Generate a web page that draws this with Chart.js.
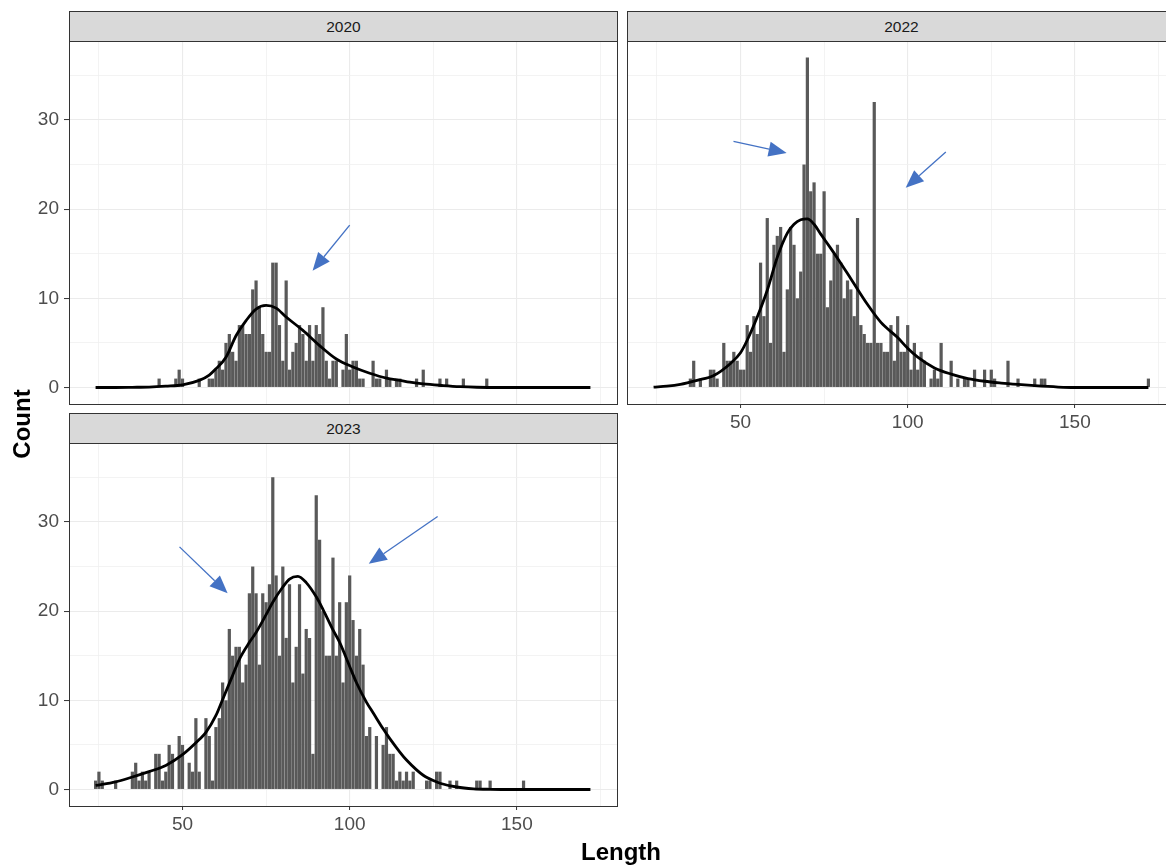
<!DOCTYPE html>
<html><head><meta charset="utf-8">
<script src="https://cdn.jsdelivr.net/npm/chart.js@4/dist/chart.umd.min.js"></script>
<style>
html,body{margin:0;padding:0;background:#fff;}
body{width:1166px;height:866px;overflow:hidden;position:relative;font-family:"Liberation Sans",Arial,sans-serif;}
canvas{position:absolute;}
.strip{position:absolute;box-sizing:border-box;background:#d9d9d9;border:1px solid #333;text-align:center;font-size:15.5px;color:#1a1a1a;height:31px;line-height:29px;}
.title{position:absolute;font-weight:bold;font-size:24px;color:#000;text-align:center;width:200px;height:30px;line-height:30px;}
</style></head>
<body>
<div class="strip" style="left:69px;top:11px;width:549px;">2020</div>
<div class="strip" style="left:627px;top:11px;width:549px;">2022</div>
<div class="strip" style="left:69px;top:413px;width:549px;">2023</div>
<canvas id="c2020" width="619" height="367" style="left:0px;top:39px;"></canvas>
<canvas id="c2022" width="552" height="405" style="left:625px;top:39px;"></canvas>
<canvas id="c2023" width="619" height="405" style="left:0px;top:441px;"></canvas>
<div class="title" style="left:-78px;top:409px;transform:rotate(-90deg);">Count</div>
<div class="title" style="left:521px;top:837px;">Length</div>
<script>
// ---- data ----
const binStart = 24; // first length bin (bins of width 1)
const counts2020 = [
  0,0,0,0,0,0,0,0,0,0,
  0,0,0,0,0,0,0,0,0,1,
  0,0,0,0,1,2,1,0,0,0,
  0,1,0,0,1,1,2,3,2,5,
  6,4,3,7,7,6,6,11,12,9,
  6,4,4,14,14,7,3,12,2,4,
  5,7,6,3,7,3,7,6,9,3,
  1,3,3,0,2,6,2,3,3,1,
  1,0,0,3,1,1,0,2,1,0,
  1,1,0,0,0,0,1,0,2,0,
  0,0,0,1,0,1,0,0,0,0,
  1,0,0,0,0,0,0,1,0,0,
  0,0,0,0,0,0,0,0,0,0,
  0,0,0,0,0,0,0,0,0,0,
  0,0,0,0,0,0,0,0,0];
const counts2022 = [
  0,0,0,0,0,0,0,0,0,0,
  0,1,3,0,1,0,0,2,2,1,
  0,5,3,3,4,3,2,2,7,4,
  8,6,14,8,19,5,16,17,18,4,
  11,18,16,10,13,25,37,22,23,15,
  15,22,9,12,15,16,14,10,12,11,
  8,19,7,6,5,5,32,5,5,4,
  4,7,3,8,4,4,7,2,5,2,
  4,3,0,1,2,1,5,0,0,3,
  0,1,0,1,1,0,2,0,0,2,
  0,2,1,0,0,0,3,0,0,1,
  0,0,0,0,1,0,1,1,0,0,
  0,0,0,0,0,0,0,0,0,0,
  0,0,0,0,0,0,0,0,0,0,
  0,0,0,0,0,0,0,0,1];
const counts2023 = [
  1,2,1,0,0,0,1,0,0,0,
  0,2,3,1,2,1,2,0,4,4,
  1,2,5,4,0,6,5,0,3,2,
  8,2,0,8,6,1,7,8,12,10,
  18,15,16,16,12,14,22,25,22,14,
  22,21,23,35,24,15,25,17,23,12,
  16,23,13,18,17,4,33,28,20,15,
  15,26,15,21,12,21,24,19,15,18,
  14,6,7,0,6,0,5,7,4,4,
  1,2,1,2,1,2,0,0,0,1,
  1,0,2,2,0,0,1,0,1,0,
  0,0,0,0,1,1,0,0,1,0,
  0,0,0,0,0,0,0,0,1,0,
  0,0,0,0,0,0,0,0,0,0,
  0,0,0,0,0,0,0,0,0];

// density curves (scaled to counts)
const densL2020 = [24,30,35,40,45,50,55,58,60,63,66,69,72,75,78,81,86,91,96,101,106,111,115,118,122,128,133,138,145,172];
const dens2020  = [0,0,0.02,0.05,0.15,0.3,0.8,1.4,2.1,3.4,5.8,7.5,8.8,9.2,8.9,7.9,6.4,4.7,3.2,2.3,1.6,1.05,0.8,0.6,0.4,0.22,0.1,0.03,0,0];
const densL2022 = [24,28,32,37,42,47,50,52,55,58,61,64,66,68,70,72,74,77,79,83,88,92,97,100,103,108,113,118,123,128,133,138,145,150,172];
const dens2022  = [0.05,0.15,0.35,0.8,1.35,2.7,3.9,5.3,7.9,10.9,14.6,17.3,18.3,18.8,18.9,18.3,17.2,15.6,14.5,12.2,9.3,7.3,5.6,4.4,3.4,2.2,1.5,1.0,0.7,0.5,0.34,0.2,0.05,0,0];
const densL2023 = [24,30,35,40,45,50,55,57,60,62,65,67,70,72,75,77,80,82,84.5,87,90,92,95,97,100,102,105,107,110,112,115,117,120,122,125,127,132,137,142,150,172];
const dens2023  = [0.45,0.85,1.4,2.0,2.7,3.9,5.6,6.4,8.3,10.1,12.8,14.6,16.5,17.6,19.6,21.0,22.7,23.6,23.9,23.2,21.6,20.2,17.9,16.5,13.8,12.0,9.8,8.6,6.8,5.7,4.2,3.3,2.2,1.6,1.0,0.7,0.28,0.08,0.02,0,0];

// annotation arrows [fromLength, fromCount, toLength, toCount]
const arrows2020 = [[100,18.2,88.9,13.1]];
const arrows2022 = [[47.9,27.6,63.8,26.3],[111.4,26.4,99.4,22.4]];
const arrows2023 = [[49.1,27.2,63.5,22.0],[126.3,30.6,105.7,25.3]];

const xTicksAll = [25,50,75,100,125,150,175];
const xTickLabels = [50,100,150];
const yTicksAll = [0,5,10,15,20,25,30,35];
const yTickLabels = [0,10,20,30];
const xRange = [16.05,179.95];
const yRange = [-1.85,38.85];

// ---- drawing ----
const panelPlugin = {
  id:'panel',
  afterDatasetsDraw(chart, args, o){
    const ctx = chart.ctx, a = chart.chartArea, x = chart.scales.x, y = chart.scales.y;
    ctx.save();
    ctx.beginPath(); ctx.rect(a.left, a.top, a.right-a.left, a.bottom-a.top); ctx.clip();
    (o.arrows||[]).forEach(ar=>{
      const x0=x.getPixelForValue(ar[0]), y0=y.getPixelForValue(ar[1]);
      const x1=x.getPixelForValue(ar[2]), y1=y.getPixelForValue(ar[3]);
      const ang=Math.atan2(y1-y0,x1-x0), L=18, W=7.5;
      const bx=x1-L*Math.cos(ang), by=y1-L*Math.sin(ang);
      ctx.strokeStyle='#4472C4'; ctx.fillStyle='#4472C4'; ctx.lineWidth=1.3;
      ctx.beginPath(); ctx.moveTo(x0,y0); ctx.lineTo(bx,by); ctx.stroke();
      ctx.beginPath(); ctx.moveTo(x1,y1);
      ctx.lineTo(bx-W*Math.sin(ang), by+W*Math.cos(ang));
      ctx.lineTo(bx+W*Math.sin(ang), by-W*Math.cos(ang));
      ctx.closePath(); ctx.fill();
    });
    ctx.restore();
    ctx.save();
    ctx.strokeStyle='#333'; ctx.lineWidth=1;
    ctx.strokeRect(Math.round(a.left)+0.5, Math.round(a.top)+0.5, Math.round(a.right-a.left), Math.round(a.bottom-a.top));
    ctx.restore();
  }
};

function makePanel(id, counts, densL, densY, arrows, showX, showY, yW, xH){
  const bars = [];
  counts.forEach((c,i)=>{ if(c>0) bars.push({x:binStart+i, y:c}); });
  const dens = densL.map((l,i)=>({x:l, y:densY[i]}));
  const tickFont = {family:'"Liberation Sans", Arial, sans-serif', size:19};
  new Chart(document.getElementById(id), {
    type:'bar',
    data:{datasets:[
      {type:'line', data:dens, borderColor:'#000', borderWidth:2.8, pointRadius:0, fill:false, cubicInterpolationMode:'monotone', order:0},
      {type:'bar', data:bars, backgroundColor:'#595959', borderWidth:0, barPercentage:0.96, categoryPercentage:1, order:1}
    ]},
    options:{
      responsive:false, animation:false, devicePixelRatio:1,
      layout:{padding:{top:2,right:2,left:0,bottom:0}},
      plugins:{legend:{display:false}, tooltip:{enabled:false}, panel:{arrows:arrows}},
      scales:{
        x:{type:'linear', min:xRange[0], max:xRange[1], offset:false,
          afterBuildTicks:s=>{ s.ticks = xTicksAll.map(v=>({value:v})); },
          afterFit:s=>{ s.height = xH; s.paddingLeft = 0; s.paddingRight = 0; s.paddingTop = 0; s.paddingBottom = 0; },
          border:{display:false},
          grid:{offset:false, drawTicks:showX, tickLength:4,
            color:c=> (c.tick && xTickLabels.includes(c.tick.value)) ? '#EBEBEB' : '#F0F0F0',
            lineWidth:c=> (c.tick && xTickLabels.includes(c.tick.value)) ? 1.1 : 0.8,
            tickColor:c=> (c.tick && xTickLabels.includes(c.tick.value)) ? '#333' : 'rgba(0,0,0,0)',
            tickWidth:1},
          ticks:{display:showX, autoSkip:false, maxRotation:0, minRotation:0, padding:3, color:'#4D4D4D', font:tickFont,
            callback:v=> xTickLabels.includes(v) ? String(v) : ''}
        },
        y:{type:'linear', min:yRange[0], max:yRange[1],
          afterBuildTicks:s=>{ s.ticks = yTicksAll.map(v=>({value:v})); },
          afterFit:s=>{ s.width = yW; s.paddingTop = 0; s.paddingBottom = 0; s.paddingLeft = 0; s.paddingRight = 0; },
          border:{display:false},
          grid:{drawTicks:showY, tickLength:5,
            color:c=> (c.tick && yTickLabels.includes(c.tick.value)) ? '#EBEBEB' : '#F0F0F0',
            lineWidth:c=> (c.tick && yTickLabels.includes(c.tick.value)) ? 1.1 : 0.8,
            tickColor:c=> (c.tick && yTickLabels.includes(c.tick.value)) ? '#333' : 'rgba(0,0,0,0)',
            tickWidth:1},
          ticks:{display:showY, autoSkip:false, padding:5, color:'#4D4D4D', font:tickFont,
            callback:v=> yTickLabels.includes(v) ? String(v) : ''}
        }
      }
    },
    plugins:[panelPlugin]
  });
}

makePanel('c2020', counts2020, densL2020, dens2020, arrows2020, false, true, 69, 2);
makePanel('c2022', counts2022, densL2022, dens2022, arrows2022, true, false, 2, 40);
makePanel('c2023', counts2023, densL2023, dens2023, arrows2023, true, true, 69, 40);
</script>
</body></html>
